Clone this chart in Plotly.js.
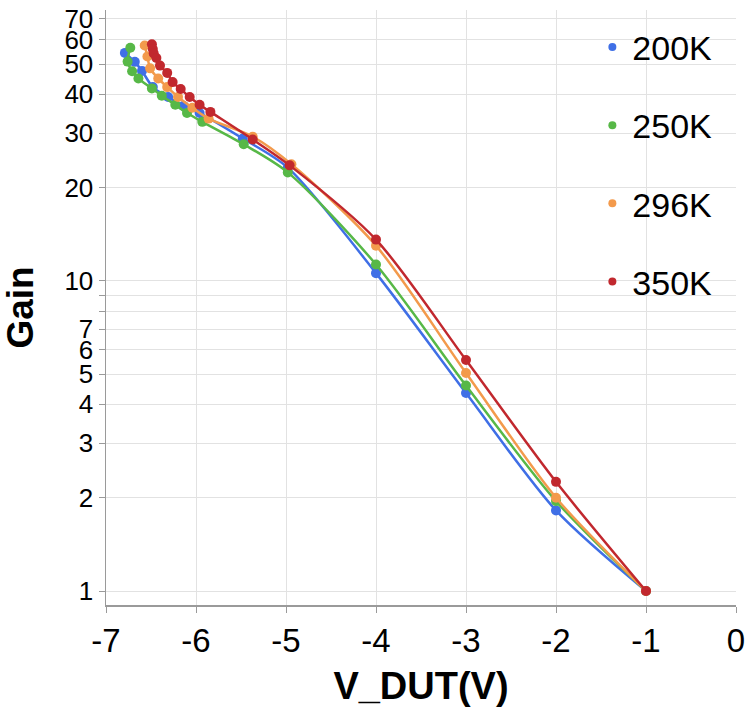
<!DOCTYPE html>
<html>
<head>
<meta charset="utf-8">
<script src="https://cdn.plot.ly/plotly-3.0.1.min.js"></script>
<style>html,body{margin:0;padding:0;background:#fff;}#chart{width:746px;height:715px;}</style>
</head>
<body>
<div id="chart"></div>
<script>
// Series names
const seriesNames = ["200K", "250K", "296K", "350K"];
const seriesColors = ["#3f6fe6", "#57b847", "#f39a4c", "#c1282e"];

// 200K
const v200 = [-6.79, -6.68, -6.60, -6.48, -6.31, -6.14, -5.96, -5.48, -4.98, -4, -3, -2, -1];
const g200 = [54.4, 50.9, 47.6, 42.2, 39.2, 36.7, 34.8, 28.8, 23.2, 10.6, 4.35, 1.82, 1];
// 250K
const v250 = [-6.73, -6.76, -6.71, -6.64, -6.49, -6.38, -6.23, -6.10, -5.93, -5.47, -4.98, -4, -3, -2, -1];
const g250 = [56.5, 51.0, 47.5, 45.0, 41.8, 39.6, 37.0, 34.8, 32.6, 27.6, 22.4, 11.3, 4.6, 1.95, 1];
// 296K
const v296 = [-6.57, -6.54, -6.51, -6.42, -6.32, -6.20, -6.04, -5.86, -5.37, -4.94, -4, -3, -2, -1];
const g296 = [57.5, 53.0, 48.5, 45.0, 42.2, 39.2, 36.2, 33.4, 29.2, 23.8, 13.0, 5.05, 2.0, 1];
// 350K
const v350 = [-6.49, -6.48, -6.47, -6.44, -6.40, -6.32, -6.26, -6.17, -6.07, -5.96, -5.84, -5.37, -4.96, -4, -3, -2, -1];
const g350 = [58.0, 56.0, 54.2, 52.4, 49.5, 46.9, 43.8, 41.6, 39.2, 37.0, 35.1, 28.6, 23.6, 13.6, 5.56, 2.25, 1];

// Axis ticks
const xTickVals = [-7, -6, -5, -4, -3, -2, -1, 0];
const xTickText = ["-7", "-6", "-5", "-4", "-3", "-2", "-1", "0"];
const yTickVals = [1, 2, 3, 4, 5, 6, 7, 8, 9, 10, 20, 30, 40, 50, 60, 70];
const yTickText = ["1", "2", "3", "4", "5", "6", "7", "", "", "10", "20", "30", "40", "50", "60", "70"];

const xs = [v200, v250, v296, v350];
const ys = [g200, g250, g296, g350];

const traces = [];
for (let i = 0; i < seriesNames.length; i++) {
  traces.push({
    x: xs[i], y: ys[i], type: "scatter", mode: "lines+markers",
    name: seriesNames[i], showlegend: false,
    line: {color: seriesColors[i], width: 2.5, shape: "spline", smoothing: 0.8},
    marker: {color: seriesColors[i], size: 10}
  });
}
for (let i = 0; i < seriesNames.length; i++) {
  traces.push({
    x: [null], y: [null], type: "scatter", mode: "markers",
    name: seriesNames[i], legendgroup: "g" + i, showlegend: true,
    marker: {color: seriesColors[i], size: 8}
  });
}

const baseFont = "'Liberation Sans', Arial, Helvetica, sans-serif";

const layout = {
  width: 746, height: 715,
  margin: {l: 106, r: 10, t: 10, b: 110, pad: 0},
  paper_bgcolor: "#ffffff", plot_bgcolor: "#ffffff",
  font: {family: baseFont, color: "#000"},
  showlegend: true,
  legend: {
    x: 0.772, y: 0.986, xanchor: "left", yanchor: "top",
    bgcolor: "rgba(0,0,0,0)", font: {size: 34, family: baseFont, color: "#000"},
    tracegroupgap: 31, itemwidth: 30
  },
  xaxis: {
    range: [-7, 0], tickvals: xTickVals, ticktext: xTickText,
    tickfont: {size: 33, family: baseFont, color: "#000"},
    showgrid: true, gridcolor: "#e2e2e2", gridwidth: 1,
    showline: true, linecolor: "#9a9a9a", linewidth: 1.5,
    ticks: "outside", ticklen: 6, tickcolor: "#9a9a9a", zeroline: false,
    title: {text: "V_DUT(V)", font: {size: 38, family: baseFont, color: "#000", weight: "bold"}, standoff: 14}
  },
  yaxis: {
    type: "log", range: [-0.045, 1.874], tickvals: yTickVals, ticktext: yTickText,
    tickfont: {size: 26, family: baseFont, color: "#000"},
    showgrid: true, gridcolor: "#e2e2e2", gridwidth: 1,
    showline: true, linecolor: "#9a9a9a", linewidth: 1.5,
    ticks: "outside", ticklen: 6, tickcolor: "#9a9a9a", zeroline: false,
    title: {text: "Gain", font: {size: 37, family: baseFont, color: "#000", weight: "bold"}, standoff: 22}
  }
};

Plotly.newPlot("chart", traces, layout, {displayModeBar: false, staticPlot: true});
</script>
</body>
</html>
